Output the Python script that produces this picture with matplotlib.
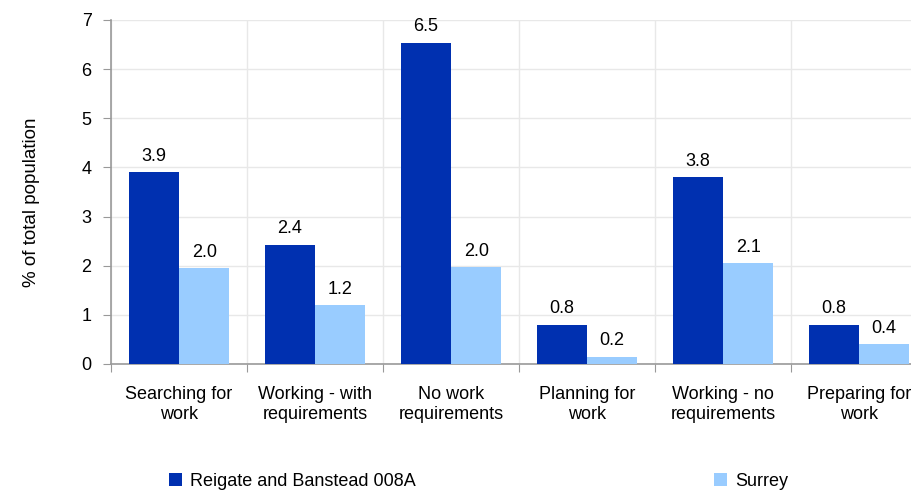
import matplotlib.pyplot as plt
import numpy as np

categories = ["Searching for\nwork", "Working - with\nrequirements", "No work\nrequirements",
              "Planning for\nwork", "Working - no\nrequirements", "Preparing for\nwork"]
reigate = [3.9, 2.43, 6.54, 0.8, 3.8, 0.8]
reigate_labels = ["3.9", "2.4", "6.5", "0.8", "3.8", "0.8"]
surrey = [1.95, 1.2, 1.97, 0.15, 2.05, 0.4]
surrey_labels = ["2.0", "1.2", "2.0", "0.2", "2.1", "0.4"]

DARK = "#0030B0"
LIGHT = "#99CCFF"
FS = 13

plt.rcParams["font.family"] = ["Liberation Sans", "DejaVu Sans"]
plt.rcParams["font.size"] = FS

W, H = 911, 491
fig = plt.figure(figsize=(W / 100, H / 100), dpi=100)
# plot area runs past the right edge of the image, as in the reference
ax = fig.add_axes([111 / W, 1 - 364 / H, 816 / W, 344 / H])

x = np.arange(len(categories))
bw = 0.37
ax.bar(x - bw / 2, reigate, bw, color=DARK, zorder=3, label="Reigate and Banstead 008A")
ax.bar(x + bw / 2, surrey, bw, color=LIGHT, zorder=3, label="Surrey")

for xi, v, t in zip(x, reigate, reigate_labels):
    ax.text(xi - bw / 2, v + 0.15, t, ha="center", va="bottom")
for xi, v, t in zip(x, surrey, surrey_labels):
    ax.text(xi + bw / 2, v + 0.15, t, ha="center", va="bottom")

ax.set_xlim(-0.5, len(categories) - 0.5)
ax.set_ylim(0, 7)
ax.set_yticks(range(0, 8))
ax.set_xticks(np.arange(-0.5, len(categories), 1))
ax.set_xticklabels([])
ax.set_xticks(x, minor=True)
ax.set_xticklabels(categories, minor=True, linespacing=1.2)
ax.tick_params(axis="x", which="minor", length=0, pad=16)
ax.tick_params(axis="x", which="major", length=6, color="#999999", direction="out")
ax.tick_params(axis="y", length=6, color="#999999", pad=8)

ax.grid(True, which="major", color="#E8E8E8", linewidth=1, zorder=0)
for s in ["top", "right"]:
    ax.spines[s].set_visible(False)
for s in ["left", "bottom"]:
    ax.spines[s].set_color("#999999")
    ax.spines[s].set_linewidth(1.2)

ax.set_ylabel("% of total population", fontsize=13.5)
ax.yaxis.set_label_coords(-71 / 816, 0.47)

h, l = ax.get_legend_handles_labels()
fig.legend([h[0]], [l[0]], loc="center left", bbox_to_anchor=(153 / W, 1 - 481 / H),
           frameon=False, handlelength=0.7, handleheight=0.7, handletextpad=0.45)
fig.legend([h[1]], [l[1]], loc="center left", bbox_to_anchor=(698 / W, 1 - 481 / H),
           frameon=False, handlelength=0.7, handleheight=0.7, handletextpad=0.45)

fig.savefig("out.png", dpi=100)
